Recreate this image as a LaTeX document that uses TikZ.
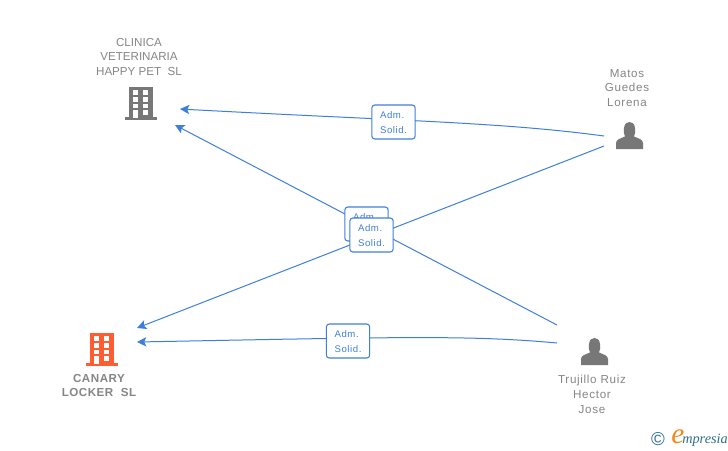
\documentclass[tikz,border=0pt]{standalone}
\usepackage{fontspec}
\setmainfont{Liberation Sans}
\newfontfamily\logofont{Liberation Serif}
\newfontfamily\spacedfont[LetterSpace=6]{Liberation Sans}
\newfontfamily\spacedbold[LetterSpace=4.5]{Liberation Sans Bold}
\usetikzlibrary{arrows.meta}
\definecolor{linkblue}{HTML}{3F7FDC}
\definecolor{namegray}{HTML}{868686}
\definecolor{icongray}{HTML}{777777}
\definecolor{iconred}{HTML}{FF5C33}
\definecolor{logoteal}{HTML}{2F6F8F}
\definecolor{logoorange}{HTML}{F28A1E}
\tikzset{
  x=0.75pt,y=-0.75pt,
  link/.style={draw=linkblue,line width=0.75pt,-{Stealth[length=7pt,width=7pt,inset=1.6pt]}},
  rolebox/.style={draw=linkblue,line width=0.8pt,rounded corners=2.2pt,fill=white,text=linkblue,
    minimum width=32.5pt,minimum height=25.5pt,inner sep=0pt,align=left,font=\spacedfont\fontsize{7.2pt}{11.2pt}\selectfont},
  entity/.style={text=namegray,align=center,inner sep=0pt,font=\fontsize{8.7pt}{11.2pt}\selectfont},
  person/.style={entity,font=\spacedfont\fontsize{8.7pt}{11.2pt}\selectfont},
}
\newcommand{\rtxt}[1]{\raisebox{-1.1pt}[0.72em][0.2em]{#1}}
% building icon: centre x, top y, colour
\newcommand{\bldgicon}[3]{%
  \begin{scope}[shift={(#1,#2)}]
    \fill[#3] (-12,0) rectangle (12,31);
    \fill[#3] (-16,30) rectangle (16,33);
    \fill[white] (-7.7,3) rectangle (-2.7,8);
    \fill[white] (2.3,3) rectangle (7.3,8);
    \fill[white] (-7.7,10.3) rectangle (-2.7,14.7);
    \fill[white] (2.3,10.3) rectangle (7.3,14.7);
    \fill[white] (-7.7,17) rectangle (-2.7,21.3);
    \fill[white] (2.3,17) rectangle (7.3,21.3);
    \fill[white] (-7.7,23) rectangle (-2.7,30.5);
    \fill[white] (2.3,23) rectangle (7.3,28);
  \end{scope}}
% person icon: centre x, top y
\newcommand{\personicon}[2]{%
  \begin{scope}[shift={(#1,#2)}]
    \fill[icongray] (-13.5,27) -- (-13.5,21) .. controls (-13.5,17.5) and (-9,16.5) .. (-4.5,14.5)
      .. controls (-6,11.5) and (-6,9) .. (-5.5,6) .. controls (-5,1.5) and (-2.5,0) .. (0,0)
      .. controls (2.5,0) and (5,1.5) .. (5.5,6) .. controls (6,9) and (6,11.5) .. (4.5,14.5)
      .. controls (9,16.5) and (13.5,17.5) .. (13.5,21) -- (13.5,27) -- cycle;
  \end{scope}}
\begin{document}
\begin{tikzpicture}
\useasboundingbox (0,0) rectangle (728,450);
\fill[white] (0,0) rectangle (728,450);

\bldgicon{141}{87}{icongray}
\bldgicon{101.5}{333}{iconred}
\personicon{629.5}{122}
\personicon{594.5}{338}

\node[entity] (clinica) at (139,57) {CLINICA\\VETERINARIA\\HAPPY PET\ \ SL};
\node[entity,font=\spacedbold\fontsize{8.7pt}{11.2pt}\selectfont] (canary) at (99,385.5) {CANARY\\LOCKER\ \ SL};
\node[person] (matos) at (627,88) {Matos\\Guedes\\Lorena};
\node[person] (trujillo) at (592,394) {Trujillo Ruiz\\Hector\\Jose};

\coordinate (clinicaA) at (180,109);
\coordinate (clinicaB) at (175,125);
\coordinate (canaryA) at (137,328);
\coordinate (canaryB) at (137,342);
\coordinate (matosA) at (604,136);
\coordinate (matosB) at (604,146);
\coordinate (trujilloA) at (557,325);
\coordinate (trujilloB) at (557,343);

\draw[link] (matosA) .. controls (500,122) and (400,121) .. (clinicaA);
\draw[link] (trujilloA) -- (clinicaB);
\draw[link] (matosB) -- (canaryA);
\draw[link] (trujilloB) .. controls (470,335) and (400,337) .. (canaryB);

\node[rolebox] (r1) at (393.5,122) {\rtxt{Adm.}\\\rtxt{Solid.}};
\node[rolebox] (r2) at (366.5,224) {\rtxt{Adm.}\\\rtxt{Solid.}};
\node[rolebox] (r3) at (371.5,235) {\rtxt{Adm.}\\\rtxt{Solid.}};
\node[rolebox] (r4) at (348,341) {\rtxt{Adm.}\\\rtxt{Solid.}};

\node[text=logoteal,inner sep=0pt,font=\fontsize{14pt}{14pt}\selectfont] (copyr) at (658,439) {©};
\node[anchor=base west,inner sep=0pt,text=logoteal,font=\logofont\itshape\fontsize{10.7pt}{12pt}\selectfont] (logo) at (671,443)
  {\textcolor{logoorange}{\fontsize{22pt}{12pt}\selectfont e}\kern-1.5pt mpresia};
\end{tikzpicture}
\end{document}
